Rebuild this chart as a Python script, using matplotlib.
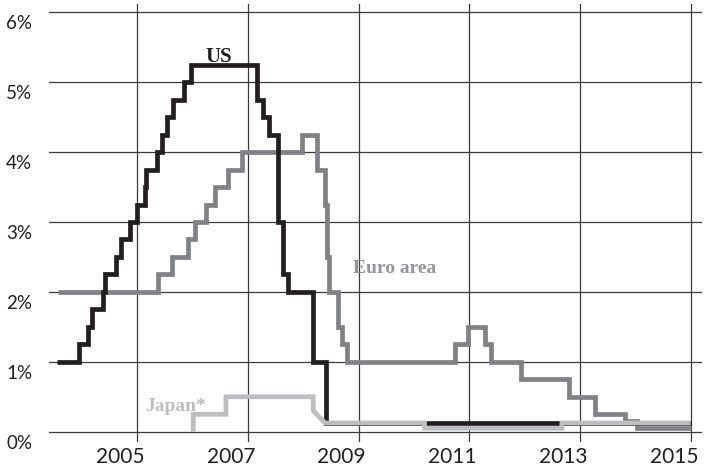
import matplotlib
matplotlib.use("Agg")
import matplotlib.pyplot as plt
import matplotlib.transforms as mtransforms

# policy rates, % (dates as decimal years, rate holds until next date)
us_dates = [2003.551, 2003.953, 2004.121, 2004.193, 2004.392, 2004.422, 2004.621,
            2004.706, 2004.874, 2005.009, 2005.144, 2005.171, 2005.361, 2005.451,
            2005.542, 2005.650, 2005.848, 2005.984, 2007.161, 2007.274, 2007.388,
            2007.551, 2007.635, 2007.731, 2008.182, 2008.406, 2014.995]
us_rates = [1.0, 1.25, 1.5, 1.75, 2.0, 2.25, 2.5,
            2.75, 3.0, 3.25, 3.5, 3.75, 4.0, 4.25,
            4.5, 4.75, 5.0, 5.25, 4.75, 4.5, 4.25,
            3.0, 2.25, 2.0, 1.0, 0.125, 0.125]

euro_dates = [2003.579, 2005.384, 2005.637, 2005.926, 2006.047, 2006.245, 2006.408,
              2006.648, 2006.890, 2007.973, 2008.255, 2008.394, 2008.424, 2008.471,
              2008.634, 2008.695, 2008.796, 2010.740, 2010.980, 2011.282, 2011.384,
              2011.926, 2012.803, 2013.267, 2013.809, 2014.020, 2014.995]
euro_rates = [2.0, 2.25, 2.5, 2.75, 3.0, 3.25, 3.5,
              3.75, 4.0, 4.25, 3.75, 3.25, 2.5, 2.0,
              1.5, 1.25, 1.0, 1.25, 1.5, 1.25, 1.0,
              0.75, 0.5, 0.25, 0.15, 0.05, 0.05]

# Japan drawn point to point (includes the slanted cut in late 2008)
japan_x = [2006.016, 2006.016, 2006.606, 2006.606, 2008.182, 2008.182, 2008.394,
           2010.190, 2010.190, 2012.671, 2012.671, 2014.995]
japan_y = [0.0, 0.25, 0.25, 0.5, 0.5, 0.3, 0.125,
           0.125, 0.05, 0.05, 0.125, 0.125]

grid_years = [2005, 2007, 2009, 2011, 2013, 2015]
pct_ticks = [0, 1, 2, 3, 4, 5, 6]

US_COL = "#231f20"
EURO_COL = "#808285"
JAPAN_COL = "#bcbec0"
GRID_COL = "#3a3a3a"

fig = plt.figure(figsize=(7.09, 4.68), dpi=100)
ax = fig.add_axes([49 / 709, 26 / 468, 653 / 709, 438 / 468])
ax.set_xlim(2003.412, 2015.199)
ax.set_ylim(-0.147, 6.119)

for s in ax.spines.values():
    s.set_visible(False)
ax.set_xticks(grid_years)
ax.set_yticks(pct_ticks)
ax.tick_params(length=0, labelbottom=False, labelleft=False)
ax.grid(True, color=GRID_COL, linewidth=0.9)
ax.set_axisbelow(True)

line_kw = dict(lw=3.4, solid_joinstyle="miter", solid_capstyle="butt")
ax.plot(euro_dates, euro_rates, drawstyle="steps-post", color=EURO_COL, zorder=3, **line_kw)
ax.plot(us_dates, us_rates, drawstyle="steps-post", color=US_COL, zorder=4, **line_kw)
ax.plot(japan_x, japan_y, color=JAPAN_COL, zorder=5, **line_kw)

# tick labels
sans = ["Lato", "DejaVu Sans"]
xoff = mtransforms.ScaledTranslation(-17 / 100, -21 / 100, fig.dpi_scale_trans)
xtr = mtransforms.blended_transform_factory(ax.transData, ax.transAxes) + xoff
for yr in grid_years:
    ax.text(yr, 0, str(yr), transform=xtr, ha="center", va="baseline",
            fontsize=15, family=sans, color="#231f20")

yoff = mtransforms.ScaledTranslation(0, -17 / 100, fig.dpi_scale_trans)
ytr = mtransforms.blended_transform_factory(fig.transFigure, ax.transData) + yoff
for p in pct_ticks:
    ax.text(6 / 709, p, f"{p}%", transform=ytr, ha="left", va="baseline",
            fontsize=13.5, family=sans, color="#231f20")

# series labels
serif = ["Liberation Serif", "DejaVu Serif"]
ax.text(2006.471, 5.285, "US", ha="center", va="baseline", fontsize=15,
        family=serif, weight="bold", color=US_COL)
ax.text(2008.893, 2.266, "Euro area", ha="left", va="baseline", fontsize=14,
        family=serif, weight="bold", color="#939598")
ax.text(2005.144, 0.30, "Japan*", ha="left", va="baseline", fontsize=14,
        family=serif, weight="bold", color=JAPAN_COL)

fig.savefig("out.png", dpi=100)
